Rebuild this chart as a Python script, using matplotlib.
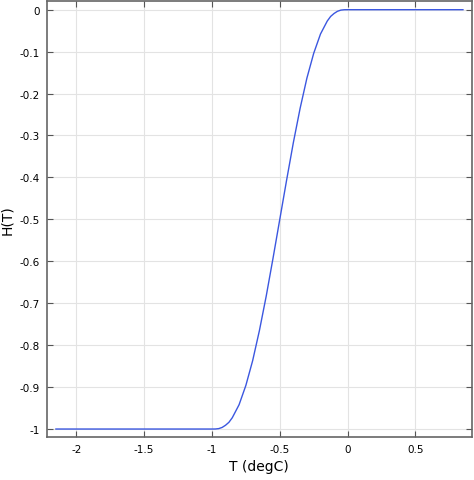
import matplotlib
matplotlib.use('Agg')
import matplotlib.pyplot as plt

# values
temp = [-2.15, -1.0, -0.975, -0.95, -0.925, -0.9, -0.875, -0.85, -0.8, -0.75, -0.7, -0.65,
        -0.6, -0.55, -0.5, -0.45, -0.4, -0.35, -0.3, -0.25, -0.2, -0.15, -0.125, -0.1,
        -0.075, -0.05, -0.025, 0.0, 0.85]
h = [-1.0, -1.0, -0.9999, -0.999, -0.9962, -0.991, -0.984, -0.973, -0.942, -0.896, -0.837,
     -0.765, -0.683, -0.593, -0.5, -0.407, -0.317, -0.235, -0.163, -0.104, -0.058, -0.027,
     -0.016, -0.009, -0.0038, -0.001, -0.0001, 0.0, 0.0]

xticks = [-2, -1.5, -1, -0.5, 0, 0.5]
xticklabels = ['-2', '-1.5', '-1', '-0.5', '0', '0.5']
yticks = [0, -0.1, -0.2, -0.3, -0.4, -0.5, -0.6, -0.7, -0.8, -0.9, -1]
yticklabels = ['0', '-0.1', '-0.2', '-0.3', '-0.4', '-0.5', '-0.6', '-0.7', '-0.8', '-0.9', '-1']

fig = plt.figure(figsize=(4.74, 4.81), dpi=100)
ax = fig.add_axes([0.0985, 0.0894, 0.8965, 0.9064])

ax.plot(temp, h, color='#3b57e0', lw=1.0)

ax.set_xlim(-2.218, 0.914)
ax.set_ylim(-1.019, 0.0207)
ax.set_xticks(xticks)
ax.set_xticklabels(xticklabels)
ax.set_yticks(yticks)
ax.set_yticklabels(yticklabels)
ax.tick_params(direction='in', top=True, right=True, length=4, width=0.8,
               color='#555555', labelsize=7.5, pad=5)
ax.grid(True, color='#e3e3e3', lw=0.8)
for s in ax.spines.values():
    s.set_color('#666666')
    s.set_linewidth(1.2)

ax.set_xlabel('T (degC)', fontsize=10, labelpad=4)
ax.set_ylabel('H(T)', fontsize=10, labelpad=4)

fig.savefig('out.png', dpi=100)
